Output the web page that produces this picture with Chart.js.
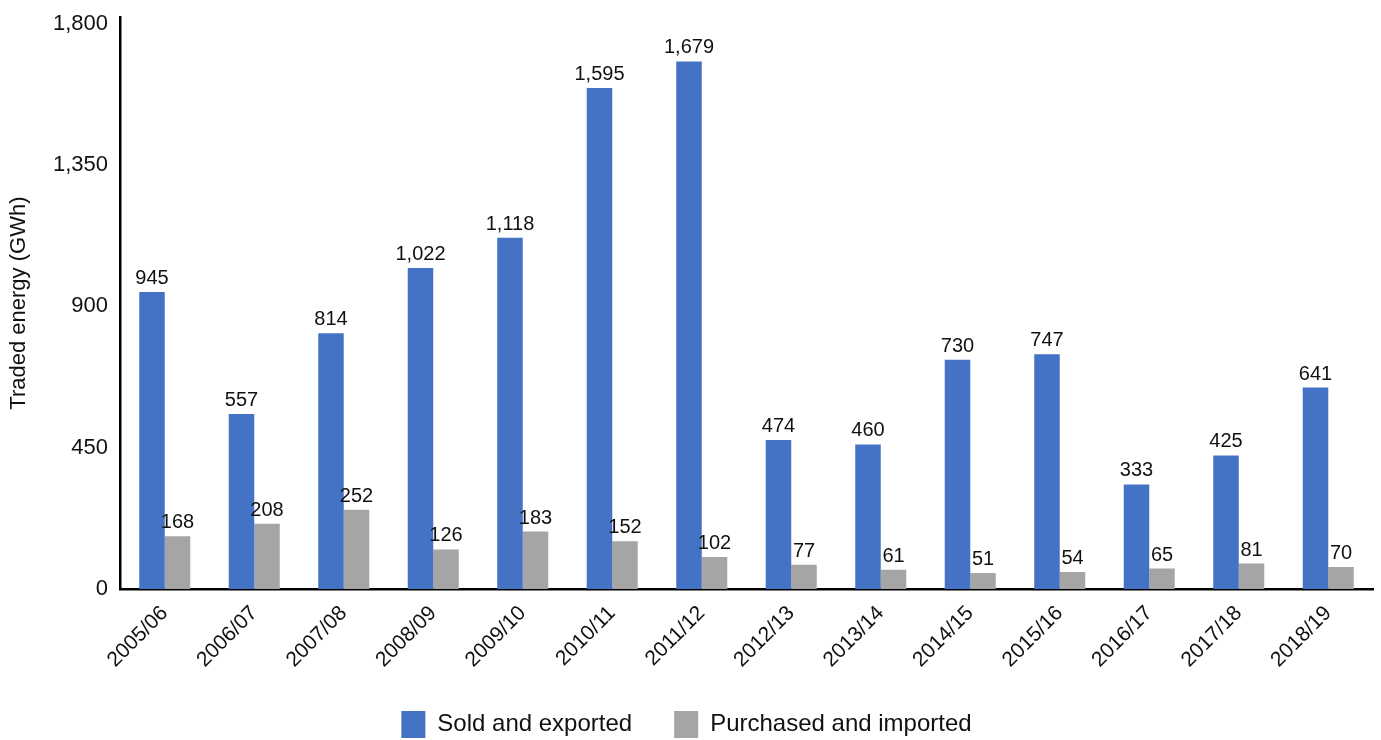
<!DOCTYPE html>
<html lang="en">
<head>
  <meta charset="UTF-8" />
  <title>Traded energy</title>
  <script src="https://cdn.jsdelivr.net/npm/chart.js"></script>
  <style>
    html, body { margin: 0; padding: 0; background: #fff; }
    #wrap { width: 1381px; height: 740px; position: relative; }
  </style>
</head>
<body>
  <div id="wrap"><canvas id="energyChart"></canvas></div>

  <script>
    const years = ["2005/06", "2006/07", "2007/08", "2008/09", "2009/10", "2010/11", "2011/12",
                   "2012/13", "2013/14", "2014/15", "2015/16", "2016/17", "2017/18", "2018/19"];
    const soldExported = [945, 557, 814, 1022, 1118, 1595, 1679, 474, 460, 730, 747, 333, 425, 641];
    const purchasedImported = [168, 208, 252, 126, 183, 152, 102, 77, 61, 51, 54, 65, 81, 70];
    const yTicks = [0, 450, 900, 1350, 1800];

    const FONT = "'Liberation Sans', Arial, sans-serif";

    // writes the value above each bar
    const valueLabels = {
      id: "valueLabels",
      afterDatasetsDraw(chart) {
        const ctx = chart.ctx;
        ctx.save();
        ctx.font = "20px " + FONT;
        ctx.fillStyle = "#111";
        ctx.textAlign = "center";
        ctx.textBaseline = "alphabetic";
        chart.data.datasets.forEach((ds, i) => {
          chart.getDatasetMeta(i).data.forEach((bar, j) => {
            ctx.fillText(ds.data[j].toLocaleString("en-US"), bar.x, bar.y - 8);
          });
        });
        ctx.restore();
      }
    };

    new Chart(document.getElementById("energyChart"), {
      type: "bar",
      data: {
        labels: years,
        datasets: [
          { label: "Sold and exported", data: soldExported, backgroundColor: "#4472C4" },
          { label: "Purchased and imported", data: purchasedImported, backgroundColor: "#A5A5A5" }
        ]
      },
      options: {
        responsive: true,
        maintainAspectRatio: false,
        animation: false,
        layout: { padding: { top: 0, right: 8, left: 0, bottom: -8 } },
        datasets: { bar: { categoryPercentage: 0.57, barPercentage: 1.0 } },
        plugins: {
          tooltip: { enabled: false },
          legend: {
            position: "bottom",
            labels: {
              font: { family: FONT, size: 24 },
              color: "#111",
              boxWidth: 24,
              boxHeight: 27,
              padding: 42
            }
          }
        },
        scales: {
          x: {
            grid: { display: false },
            border: { color: "#000", width: 2.5 },
            ticks: {
              minRotation: 45,
              maxRotation: 45,
              color: "#111",
              font: { family: FONT, size: 21 },
              padding: 4
            },
            afterFit(scale) { scale.height = 80; }
          },
          y: {
            min: 0,
            max: 1820,
            grid: { display: false },
            border: { color: "#000", width: 2.5 },
            ticks: {
              stepSize: 450,
              color: "#111",
              font: { family: FONT, size: 22 },
              padding: 4,
              callback: v => v.toLocaleString("en-US")
            },
            afterBuildTicks(scale) {
              scale.ticks = yTicks.map(v => ({ value: v }));
            },
            title: {
              display: true,
              text: "Traded energy (GWh)",
              color: "#111",
              font: { family: FONT, size: 22 },
              padding: { top: 6, bottom: 0 }
            },
            afterFit(scale) { scale.width = 120; }
          }
        }
      },
      plugins: [valueLabels]
    });
  </script>
</body>
</html>
